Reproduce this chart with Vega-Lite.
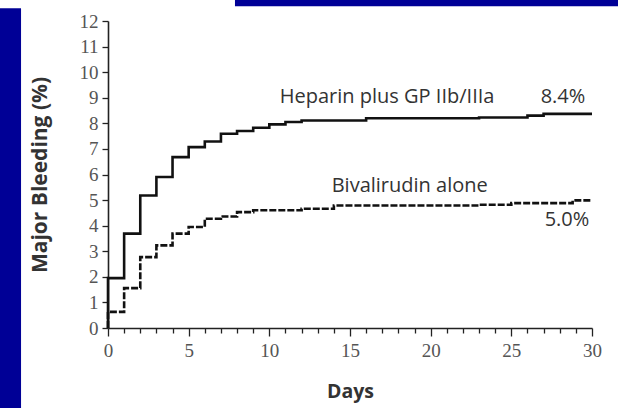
{
  "$schema": "https://vega.github.io/schema/vega-lite/v6.json",
  "width": 484,
  "height": 307,
  "autosize": "none",
  "padding": {"left": 108, "top": 21, "right": 26, "bottom": 80},
  "background": "white",
  "config": {
    "view": {"stroke": null},
    "axisX": {
      "titleFont": "Open Sans", "titleFontSize": 19.5, "titleFontWeight": "bold", "titleColor": "#333333",
      "titlePadding": 22,
      "labelFont": "Liberation Serif", "labelFontSize": 19, "labelColor": "#555555",
      "labelPadding": 5, "labelFlush": false, "labelOverlap": false,
      "tickColor": "#222222", "tickWidth": 1.3,
      "domainColor": "#222222", "domainWidth": 1.6, "grid": false
    },
    "axisY": {
      "titleFont": "Open Sans", "titleFontSize": 21, "titleFontWeight": "bold", "titleColor": "#333333",
      "titlePadding": 29,
      "labelFont": "Liberation Serif", "labelFontSize": 19, "labelColor": "#555555",
      "labelPadding": 4, "labelFlush": false, "labelOverlap": false,
      "tickSize": 6, "tickColor": "#222222", "tickWidth": 1.3,
      "domainColor": "#222222", "domainWidth": 1.6, "grid": false
    }
  },
  "datasets": {
    "curves": [
      {"day": 0, "pct": 0, "arm": "Heparin plus GP IIb/IIIa"},
      {"day": 0, "pct": 1.95, "arm": "Heparin plus GP IIb/IIIa"},
      {"day": 1, "pct": 3.69, "arm": "Heparin plus GP IIb/IIIa"},
      {"day": 2, "pct": 5.18, "arm": "Heparin plus GP IIb/IIIa"},
      {"day": 3, "pct": 5.9, "arm": "Heparin plus GP IIb/IIIa"},
      {"day": 4, "pct": 6.68, "arm": "Heparin plus GP IIb/IIIa"},
      {"day": 5, "pct": 7.07, "arm": "Heparin plus GP IIb/IIIa"},
      {"day": 6, "pct": 7.29, "arm": "Heparin plus GP IIb/IIIa"},
      {"day": 7, "pct": 7.59, "arm": "Heparin plus GP IIb/IIIa"},
      {"day": 8, "pct": 7.7, "arm": "Heparin plus GP IIb/IIIa"},
      {"day": 9, "pct": 7.83, "arm": "Heparin plus GP IIb/IIIa"},
      {"day": 10, "pct": 7.96, "arm": "Heparin plus GP IIb/IIIa"},
      {"day": 11, "pct": 8.05, "arm": "Heparin plus GP IIb/IIIa"},
      {"day": 12, "pct": 8.11, "arm": "Heparin plus GP IIb/IIIa"},
      {"day": 16, "pct": 8.2, "arm": "Heparin plus GP IIb/IIIa"},
      {"day": 23, "pct": 8.23, "arm": "Heparin plus GP IIb/IIIa"},
      {"day": 26, "pct": 8.3, "arm": "Heparin plus GP IIb/IIIa"},
      {"day": 27, "pct": 8.37, "arm": "Heparin plus GP IIb/IIIa"},
      {"day": 30, "pct": 8.37, "arm": "Heparin plus GP IIb/IIIa"},
      {"day": 0, "pct": 0, "arm": "Bivalirudin alone"},
      {"day": 0, "pct": 0.63, "arm": "Bivalirudin alone"},
      {"day": 1, "pct": 1.56, "arm": "Bivalirudin alone"},
      {"day": 2, "pct": 2.77, "arm": "Bivalirudin alone"},
      {"day": 3, "pct": 3.23, "arm": "Bivalirudin alone"},
      {"day": 4, "pct": 3.69, "arm": "Bivalirudin alone"},
      {"day": 5, "pct": 3.95, "arm": "Bivalirudin alone"},
      {"day": 6, "pct": 4.27, "arm": "Bivalirudin alone"},
      {"day": 7, "pct": 4.36, "arm": "Bivalirudin alone"},
      {"day": 8, "pct": 4.53, "arm": "Bivalirudin alone"},
      {"day": 9, "pct": 4.6, "arm": "Bivalirudin alone"},
      {"day": 12, "pct": 4.66, "arm": "Bivalirudin alone"},
      {"day": 14, "pct": 4.79, "arm": "Bivalirudin alone"},
      {"day": 23, "pct": 4.82, "arm": "Bivalirudin alone"},
      {"day": 25, "pct": 4.88, "arm": "Bivalirudin alone"},
      {"day": 28.8, "pct": 4.99, "arm": "Bivalirudin alone"},
      {"day": 30, "pct": 4.99, "arm": "Bivalirudin alone"}
    ],
    "labels": [
      {"day": 17.3, "pct": 9.02, "text": "Heparin plus GP IIb/IIIa", "anchor": "center"},
      {"day": 18.7, "pct": 5.54, "text": "Bivalirudin alone", "anchor": "center"},
      {"day": 28.2, "pct": 9.02, "text": "8.4%", "anchor": "left"},
      {"day": 28.45, "pct": 4.21, "text": "5.0%", "anchor": "left"}
    ]
  },
  "layer": [
    {
      "data": {"values": [{"part": "left band"}]},
      "mark": {"type": "rect", "color": "#000096", "clip": false},
      "encoding": {
        "x": {"datum": -6.8, "type": "quantitative", "scale": {"domain": [0, 30], "nice": false},
          "axis": {"title": "Days",
            "values": [0,1,2,3,4,5,6,7,8,9,10,11,12,13,14,15,16,17,18,19,20,21,22,23,24,25,26,27,28,29,30],
            "labelExpr": "datum.value % 5 === 0 ? datum.label : ''",
            "tickSize": {"condition": {"test": "datum.value % 5 === 0", "value": 8}, "value": 5}}},
        "x2": {"datum": -5.39},
        "y": {"datum": 12.5, "type": "quantitative", "scale": {"domain": [0, 12], "nice": false},
          "axis": {"title": "Major Bleeding (%)", "values": [0,1,2,3,4,5,6,7,8,9,10,11,12]}},
        "y2": {"datum": -3.5}
      }
    },
    {
      "data": {"values": [{"part": "top band"}]},
      "mark": {"type": "rect", "color": "#000096", "clip": false},
      "encoding": {
        "x": {"datum": 7.87, "type": "quantitative", "scale": {"domain": [0, 30], "nice": false},
          "axis": {"title": "Days",
            "values": [0,1,2,3,4,5,6,7,8,9,10,11,12,13,14,15,16,17,18,19,20,21,22,23,24,25,26,27,28,29,30],
            "labelExpr": "datum.value % 5 === 0 ? datum.label : ''",
            "tickSize": {"condition": {"test": "datum.value % 5 === 0", "value": 8}, "value": 5}}},
        "x2": {"datum": 32},
        "y": {"datum": 13.2, "type": "quantitative", "scale": {"domain": [0, 12], "nice": false},
          "axis": {"title": "Major Bleeding (%)", "values": [0,1,2,3,4,5,6,7,8,9,10,11,12]}},
        "y2": {"datum": 12.58}
      }
    },
    {
      "data": {"name": "curves"},
      "mark": {"type": "line", "interpolate": "step-after", "color": "#111111", "strokeWidth": 2.6},
      "encoding": {
        "x": {"field": "day", "type": "quantitative", "scale": {"domain": [0, 30], "nice": false},
          "axis": {"title": "Days",
            "values": [0,1,2,3,4,5,6,7,8,9,10,11,12,13,14,15,16,17,18,19,20,21,22,23,24,25,26,27,28,29,30],
            "labelExpr": "datum.value % 5 === 0 ? datum.label : ''",
            "tickSize": {"condition": {"test": "datum.value % 5 === 0", "value": 8}, "value": 5}}},
        "y": {"field": "pct", "type": "quantitative", "scale": {"domain": [0, 12], "nice": false},
          "axis": {"title": "Major Bleeding (%)", "values": [0,1,2,3,4,5,6,7,8,9,10,11,12]}},
        "strokeDash": {
          "field": "arm", "type": "nominal",
          "scale": {"domain": ["Heparin plus GP IIb/IIIa", "Bivalirudin alone"], "range": [[1, 0], [7, 2]]},
          "legend": null
        }
      }
    },
    {
      "data": {"name": "labels"},
      "mark": {"type": "text", "font": "Open Sans", "fontSize": 20, "color": "#333333", "baseline": "middle"},
      "encoding": {
        "x": {"field": "day", "type": "quantitative", "scale": {"domain": [0, 30], "nice": false},
          "axis": {"title": "Days",
            "values": [0,1,2,3,4,5,6,7,8,9,10,11,12,13,14,15,16,17,18,19,20,21,22,23,24,25,26,27,28,29,30],
            "labelExpr": "datum.value % 5 === 0 ? datum.label : ''",
            "tickSize": {"condition": {"test": "datum.value % 5 === 0", "value": 8}, "value": 5}}},
        "y": {"field": "pct", "type": "quantitative", "scale": {"domain": [0, 12], "nice": false},
          "axis": {"title": "Major Bleeding (%)", "values": [0,1,2,3,4,5,6,7,8,9,10,11,12]}},
        "text": {"field": "text"},
        "align": {"field": "anchor", "type": "nominal", "scale": null}
      }
    }
  ]
}
